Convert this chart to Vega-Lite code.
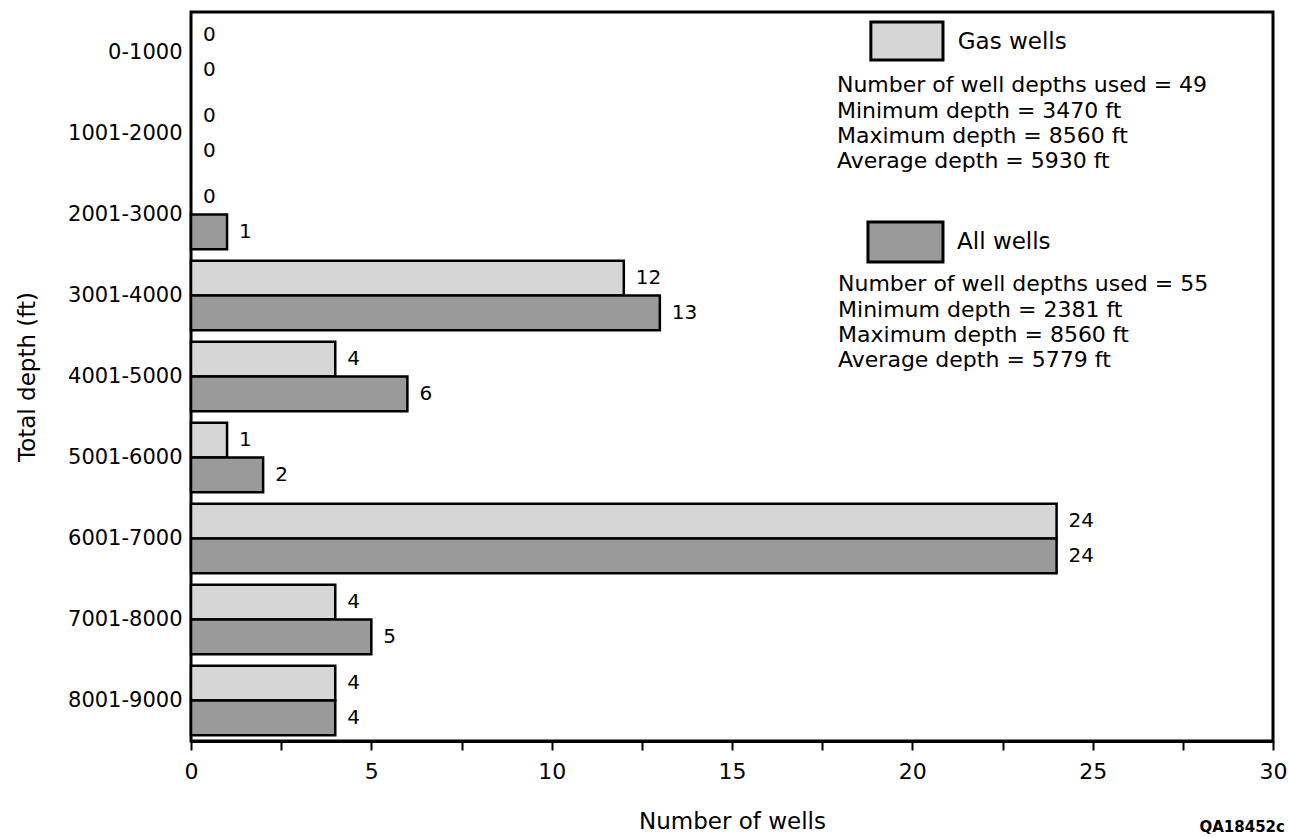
{
  "$schema": "https://vega.github.io/schema/vega-lite/v6.json",
  "width": 1082,
  "height": 729,
  "autosize": {"type": "none"},
  "padding": {"left": 191, "top": 12, "right": 16, "bottom": 97},
  "background": "white",
  "config": {
    "font": "DejaVu Sans",
    "view": {"stroke": "black", "strokeWidth": 3},
    "axis": {"labelColor": "black", "titleColor": "black", "labelFont": "DejaVu Sans", "titleFont": "DejaVu Sans", "titleFontWeight": "normal"}
  },
  "datasets": {
    "wells": [
      {"depth": "0-1000", "type": "Gas wells", "count": 0},
      {"depth": "0-1000", "type": "All wells", "count": 0},
      {"depth": "1001-2000", "type": "Gas wells", "count": 0},
      {"depth": "1001-2000", "type": "All wells", "count": 0},
      {"depth": "2001-3000", "type": "Gas wells", "count": 0},
      {"depth": "2001-3000", "type": "All wells", "count": 1},
      {"depth": "3001-4000", "type": "Gas wells", "count": 12},
      {"depth": "3001-4000", "type": "All wells", "count": 13},
      {"depth": "4001-5000", "type": "Gas wells", "count": 4},
      {"depth": "4001-5000", "type": "All wells", "count": 6},
      {"depth": "5001-6000", "type": "Gas wells", "count": 1},
      {"depth": "5001-6000", "type": "All wells", "count": 2},
      {"depth": "6001-7000", "type": "Gas wells", "count": 24},
      {"depth": "6001-7000", "type": "All wells", "count": 24},
      {"depth": "7001-8000", "type": "Gas wells", "count": 4},
      {"depth": "7001-8000", "type": "All wells", "count": 5},
      {"depth": "8001-9000", "type": "Gas wells", "count": 4},
      {"depth": "8001-9000", "type": "All wells", "count": 4}
    ],
    "notes": [
      {"kind": "head", "text": "Gas wells", "lx": 21.26, "ly": 1.18},
      {"kind": "stat", "text": "Number of well depths used = 49", "lx": 17.91, "ly": 2.87},
      {"kind": "stat", "text": "Minimum depth = 3470 ft", "lx": 17.91, "ly": 3.9},
      {"kind": "stat", "text": "Maximum depth = 8560 ft", "lx": 17.91, "ly": 4.88},
      {"kind": "stat", "text": "Average depth = 5930 ft", "lx": 17.91, "ly": 5.87},
      {"kind": "head", "text": "All wells", "lx": 21.24, "ly": 9.06},
      {"kind": "stat", "text": "Number of well depths used = 55", "lx": 17.94, "ly": 10.71},
      {"kind": "stat", "text": "Minimum depth = 2381 ft", "lx": 17.94, "ly": 11.73},
      {"kind": "stat", "text": "Maximum depth = 8560 ft", "lx": 17.94, "ly": 12.72},
      {"kind": "stat", "text": "Average depth = 5779 ft", "lx": 17.94, "ly": 13.7},
      {"kind": "code", "text": "QA18452c", "lx": 30.33, "ly": 32.1}
    ],
    "swatches": [
      {"type": "Gas wells", "x1": 18.85, "x2": 20.85, "y1": 0.39, "y2": 1.89},
      {"type": "All wells", "x1": 18.77, "x2": 20.85, "y1": 8.27, "y2": 9.84}
    ]
  },
  "layer": [
    {
      "data": {"name": "wells"},
      "encoding": {
        "y": {
          "field": "depth", "type": "nominal",
          "sort": ["0-1000", "1001-2000", "2001-3000", "3001-4000", "4001-5000", "5001-6000", "6001-7000", "7001-8000", "8001-9000"],
          "scale": {"paddingInner": 0.14, "paddingOuter": 0.07},
          "axis": {"title": "Total depth (ft)", "titleFontSize": 23, "titlePadding": 28, "labelFontSize": 21, "labelPadding": 9, "ticks": false, "domain": false}
        },
        "yOffset": {"field": "type", "type": "nominal", "sort": ["Gas wells", "All wells"], "scale": {"paddingInner": 0, "paddingOuter": 0}},
        "x": {
          "field": "count", "type": "quantitative", "title": "Number of wells",
          "scale": {"domain": [0, 30], "nice": false, "zero": true},
          "axis": {
            "titleFontSize": 23, "titlePadding": 28,
            "values": [0, 2.5, 5, 7.5, 10, 12.5, 15, 17.5, 20, 22.5, 25, 27.5, 30],
            "labelExpr": "datum.value % 5 === 0 ? format(datum.value, 'd') : ''",
            "labelFontSize": 22, "labelPadding": 11, "labelFlush": false,
            "tickSize": 9, "tickWidth": 2, "tickColor": "black",
            "domainColor": "black", "domainWidth": 3, "grid": false
          }
        }
      },
      "layer": [
        {
          "transform": [{"filter": "datum.count > 0"}],
          "mark": {"type": "bar", "stroke": "black", "strokeWidth": 2.5},
          "encoding": {
            "fill": {"field": "type", "type": "nominal", "scale": {"domain": ["Gas wells", "All wells"], "range": ["#d6d6d6", "#9a9a9a"]}, "legend": null}
          }
        },
        {
          "mark": {"type": "text", "align": "left", "baseline": "middle", "dx": 12, "fontSize": 20, "color": "black"},
          "encoding": {"text": {"field": "count", "type": "quantitative"}}
        }
      ]
    },
    {
      "layer": [
        {
          "data": {"name": "swatches"},
          "mark": {"type": "rect", "stroke": "black", "strokeWidth": 3},
          "encoding": {
            "x": {"field": "x1", "type": "quantitative", "title": "Number of wells"},
            "x2": {"field": "x2"},
            "y": {"field": "y1", "type": "quantitative", "scale": {"domain": [0, 28.7], "reverse": true, "nice": false, "zero": false}, "axis": null},
            "y2": {"field": "y2"},
            "fill": {"field": "type", "type": "nominal", "legend": null}
          }
        },
        {
          "data": {"name": "notes"},
          "transform": [{"filter": "datum.kind === 'head'"}],
          "mark": {"type": "text", "align": "left", "baseline": "middle", "fontSize": 23, "color": "black"},
          "encoding": {
            "x": {"field": "lx", "type": "quantitative", "title": "Number of wells"},
            "y": {"field": "ly", "type": "quantitative", "scale": {"domain": [0, 28.7], "reverse": true, "nice": false, "zero": false}, "axis": null},
            "text": {"field": "text"}
          }
        },
        {
          "data": {"name": "notes"},
          "transform": [{"filter": "datum.kind === 'stat'"}],
          "mark": {"type": "text", "align": "left", "baseline": "middle", "fontSize": 22, "color": "black"},
          "encoding": {
            "x": {"field": "lx", "type": "quantitative", "title": "Number of wells"},
            "y": {"field": "ly", "type": "quantitative", "scale": {"domain": [0, 28.7], "reverse": true, "nice": false, "zero": false}, "axis": null},
            "text": {"field": "text"}
          }
        },
        {
          "data": {"name": "notes"},
          "transform": [{"filter": "datum.kind === 'code'"}],
          "mark": {"type": "text", "align": "right", "baseline": "middle", "fontSize": 15, "fontWeight": "bold", "color": "black"},
          "encoding": {
            "x": {"field": "lx", "type": "quantitative", "title": "Number of wells"},
            "y": {"field": "ly", "type": "quantitative", "scale": {"domain": [0, 28.7], "reverse": true, "nice": false, "zero": false}, "axis": null},
            "text": {"field": "text"}
          }
        }
      ]
    }
  ],
  "resolve": {"scale": {"y": "independent"}, "axis": {"y": "independent"}}
}
